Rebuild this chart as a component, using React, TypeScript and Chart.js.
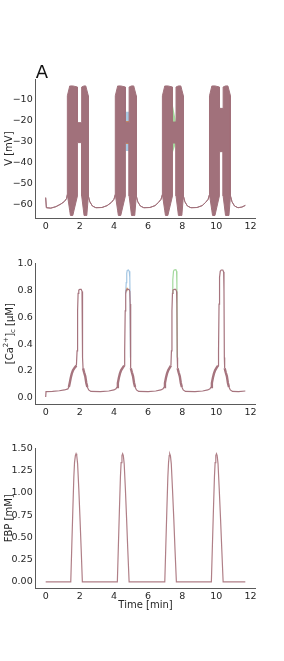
import React, { useEffect, useRef } from 'react';
import { Chart, registerables } from 'chart.js';
Chart.register(...registerables);

// ---------- tick labels ----------
const timeTicks = [0, 2, 4, 6, 8, 10, 12];
const vTicks = [-60, -50, -40, -30, -20, -10];
const caTicks = [0, 0.2, 0.4, 0.6, 0.8, 1.0];
const fbpTicks = [0, 0.25, 0.5, 0.75, 1.0, 1.25, 1.5];

// ---------- membrane potential: envelope of the fast spiking (mV) ----------
const vTime = [
  0, 0.04, 0.3, 0.6, 0.9, 1.1, 1.22,
  1.27, 1.27, 1.41, 1.45, 1.59, 1.86, 1.86, 2.11, 2.11, 2.25, 2.35, 2.41, 2.5, 2.5,
  2.59, 2.74, 2.94, 3.3, 3.6, 3.85, 4.0,
  4.08, 4.08, 4.22, 4.26, 4.4, 4.67, 4.67, 4.89, 4.89, 5.03, 5.16, 5.22, 5.31, 5.31,
  5.4, 5.55, 5.75, 6.11, 6.41, 6.61, 6.76,
  6.84, 6.84, 6.98, 7.02, 7.16, 7.43, 7.43, 7.64, 7.64, 7.78, 7.92, 7.98, 8.07, 8.07,
  8.16, 8.31, 8.51, 8.87, 9.17, 9.37, 9.52,
  9.6, 9.6, 9.74, 9.78, 9.92, 10.18, 10.18, 10.4, 10.4, 10.54, 10.68, 10.74, 10.83, 10.83,
  10.92, 11.07, 11.27, 11.5, 11.7,
];
const vUpper = [
  -56.5, -61.3, -61.5, -60.8, -59.5, -58.3, -57,
  -55, -8, -3.3, -3.3, -3.3, -3.8, -20.8, -20.8, -3.8, -3.3, -3.3, -5.2, -8, -55.7,
  -58.5, -60.5, -61.3, -61.2, -60.3, -58.8, -57.3,
  -55, -8, -3.3, -3.3, -3.3, -3.8, -20.8, -20.8, -3.8, -3.3, -3.3, -5.2, -8, -55.7,
  -58.5, -60.5, -61.3, -61.2, -60.3, -58.8, -57.3,
  -55, -8, -3.3, -3.3, -3.3, -3.8, -20.5, -20.5, -3.8, -3.3, -3.3, -5.2, -8, -55.7,
  -58.5, -60.5, -61.3, -61.2, -60.3, -58.8, -57.3,
  -55, -8, -3.3, -3.3, -3.3, -3.8, -14, -14, -3.8, -3.3, -3.3, -5.2, -8, -55.7,
  -58.5, -60.5, -61.3, -61.0, -60.2,
];
const vLower = [
  -56.5, -61.3, -61.5, -60.8, -59.5, -58.3, -57,
  -55, -55, -62.8, -65, -65, -55.7, -30.3, -30.3, -55.7, -65, -65, -65, -55.7, -55.7,
  -58.5, -60.5, -61.3, -61.2, -60.3, -58.8, -57.3,
  -55, -55, -62.8, -65, -65, -55.7, -30.3, -30.3, -55.7, -65, -65, -65, -55.7, -55.7,
  -58.5, -60.5, -61.3, -61.2, -60.3, -58.8, -57.3,
  -55, -55, -62.8, -65, -65, -55.7, -30.5, -30.5, -55.7, -65, -65, -65, -55.7, -55.7,
  -58.5, -60.5, -61.3, -61.2, -60.3, -58.8, -57.3,
  -55, -55, -62.8, -65, -65, -55.7, -34.6, -34.6, -55.7, -65, -65, -65, -55.7, -55.7,
  -58.5, -60.5, -61.3, -61.0, -60.2,
];
// other parameter sets that differ in the plateau of some bursts
const vBlueTime = [4.67, 4.89];
const vBlueUpper = [-15.6, -15.6];
const vBlueLower = [-34.3, -34.3];
const vOrangeTime = [4.67, 4.89];
const vOrangeUpper = [-20.0, -20.0];
const vOrangeLower = [-31.0, -31.0];
const vGreen3Time = [7.43, 7.64];
const vGreen3Upper = [-11.5, -20.5];
const vGreen3Lower = [-35.5, -30.5];
const vGreen4Time = [10.18, 10.25];
const vGreen4Upper = [-12.6, -14];
const vGreen4Lower = [-36, -34.6];

// ---------- cytosolic calcium (µM) ----------
const caTime = [
  0, 0.02, 0.4, 0.8, 1.1, 1.3,
  1.36, 1.41, 1.47, 1.53, 1.6, 1.7, 1.8,
  1.84, 1.87, 1.9, 1.94, 2.0, 2.08, 2.13, 2.15,
  2.17, 2.19, 2.25, 2.32, 2.38, 2.44, 2.52, 2.65,
  3.2, 3.7, 4.0, 4.12,
  4.18, 4.23, 4.29, 4.35, 4.42, 4.52, 4.6,
  4.63, 4.66, 4.69, 4.72, 4.8, 4.88, 4.93, 4.95,
  4.97, 4.99, 5.05, 5.12, 5.18, 5.24, 5.32, 5.45,
  6.0, 6.45, 6.75, 6.88,
  6.94, 6.99, 7.05, 7.11, 7.18, 7.27, 7.34,
  7.37, 7.4, 7.43, 7.46, 7.54, 7.62, 7.67, 7.69,
  7.71, 7.73, 7.79, 7.86, 7.92, 7.98, 8.06, 8.19,
  8.75, 9.2, 9.5, 9.63,
  9.69, 9.74, 9.8, 9.86, 9.93, 10.02, 10.1,
  10.13, 10.16, 10.19, 10.23, 10.29, 10.38, 10.43, 10.45,
  10.47, 10.49, 10.55, 10.62, 10.68, 10.74, 10.82, 10.95,
  11.3, 11.7,
];
const caValues = [
  0.005, 0.045, 0.047, 0.052, 0.058, 0.066,
  0.08, 0.11, 0.15, 0.18, 0.205, 0.225, 0.24,
  0.35, 0.65, 0.78, 0.805, 0.81, 0.81, 0.795, 0.7,
  0.3, 0.22, 0.19, 0.16, 0.11, 0.08, 0.058, 0.047,
  0.046, 0.05, 0.058, 0.066,
  0.08, 0.11, 0.15, 0.18, 0.205, 0.225, 0.24,
  0.35, 0.65, 0.78, 0.805, 0.81, 0.81, 0.795, 0.7,
  0.3, 0.22, 0.19, 0.16, 0.11, 0.08, 0.058, 0.047,
  0.046, 0.05, 0.058, 0.066,
  0.08, 0.11, 0.15, 0.18, 0.205, 0.225, 0.24,
  0.35, 0.65, 0.78, 0.805, 0.81, 0.81, 0.795, 0.7,
  0.3, 0.22, 0.19, 0.16, 0.11, 0.08, 0.058, 0.047,
  0.046, 0.05, 0.058, 0.066,
  0.08, 0.11, 0.15, 0.18, 0.205, 0.225, 0.24,
  0.35, 0.7, 0.9, 0.945, 0.955, 0.955, 0.94, 0.8,
  0.3, 0.22, 0.19, 0.16, 0.11, 0.08, 0.058, 0.047,
  0.046, 0.05,
];
const caBlueTime = [4.69, 4.72, 4.75, 4.78, 4.85, 4.9, 4.93, 4.95, 4.97];
const caBlueValues = [0.78, 0.86, 0.93, 0.952, 0.955, 0.945, 0.9, 0.7, 0.3];
const caOrangeTime = [4.71, 4.76, 4.82];
const caOrangeValues = [0.8, 0.818, 0.818];
const caGreenTime = [7.42, 7.45, 7.49, 7.53, 7.63, 7.67, 7.69, 7.71];
const caGreenValues = [0.78, 0.88, 0.945, 0.955, 0.958, 0.945, 0.85, 0.3];

// ---------- fructose-1,6-bisphosphate (mM) ----------
const fbpTime = [
  0, 1.47, 1.53, 1.59, 1.65, 1.69, 1.74, 1.78, 1.82, 1.87, 1.94, 2.01, 2.08, 2.15,
  4.2, 4.26, 4.32, 4.38, 4.42, 4.47, 4.51, 4.55, 4.6, 4.67, 4.74, 4.81, 4.89,
  6.98, 7.04, 7.1, 7.16, 7.2, 7.24, 7.27, 7.31, 7.36, 7.43, 7.51, 7.58, 7.66,
  9.71, 9.77, 9.83, 9.89, 9.93, 9.97, 10.01, 10.05, 10.1, 10.17, 10.25, 10.32, 10.4,
  11.7,
];
const fbpValues = [
  0, 0, 0.4, 0.8, 1.18, 1.34, 1.42, 1.44, 1.42, 1.33, 1.05, 0.72, 0.37, 0,
  0, 0.4, 0.8, 1.18, 1.34, 1.42, 1.44, 1.42, 1.33, 1.05, 0.72, 0.37, 0,
  0, 0.4, 0.8, 1.18, 1.34, 1.42, 1.44, 1.42, 1.33, 1.05, 0.7, 0.36, 0,
  0, 0.4, 0.8, 1.18, 1.34, 1.42, 1.44, 1.42, 1.33, 1.05, 0.7, 0.37, 0,
  0,
];

// ---------- styling ----------
const FONT = "'DejaVu Sans', sans-serif";
const TXT = '#262626';
const AXIS = '#5a5a5a';
const MAUVE = '#a1717b';
const MAUVE_LINE = '#a6747e';
const TICK_SIZE = 9.5;
const LABEL_SIZE = 10;

const pts = (xs: number[], ys: number[]) => xs.map((x, i) => ({ x, y: ys[i] }));
const minusFmt = (v: number) => (v < 0 ? '\u2212' + Math.abs(v) : String(v));

function baseOptions(o: any) {
  return {
    responsive: false,
    animation: false,
    devicePixelRatio: 1,
    events: [],
    layout: { padding: { left: 0, right: 28.7, top: o.padTop, bottom: o.padBottom } },
    plugins: { legend: { display: false }, tooltip: { enabled: false }, title: { display: false } },
    elements: { point: { radius: 0 }, line: { tension: 0 } },
    scales: {
      x: {
        type: 'linear',
        min: -0.585,
        max: 12.285,
        grid: { display: false, drawTicks: false },
        border: { display: true, color: AXIS, width: 1 },
        afterBuildTicks: (s: any) => { s.ticks = timeTicks.map((v) => ({ value: v })); },
        afterFit: (s: any) => { s.height = o.xH; },
        ticks: {
          autoSkip: false, maxRotation: 0, padding: 2.5, color: TXT,
          font: { family: FONT, size: TICK_SIZE },
          callback: (v: any) => String(v),
        },
        title: o.xTitle
          ? { display: true, text: o.xTitle, color: TXT, font: { family: FONT, size: LABEL_SIZE }, padding: { top: 0, bottom: o.xTitlePad } }
          : { display: false },
      },
      y: {
        type: 'linear',
        min: o.yMin,
        max: o.yMax,
        grid: { display: false, drawTicks: false },
        border: { display: true, color: AXIS, width: 1 },
        afterBuildTicks: (s: any) => { s.ticks = o.yTicks.map((v: number) => ({ value: v })); },
        afterFit: (s: any) => { s.width = 35.7; },
        ticks: {
          autoSkip: false, padding: 3, color: TXT,
          font: { family: FONT, size: TICK_SIZE },
          callback: o.fmt,
        },
        title: o.yTitle
          ? { display: true, text: o.yTitle, color: TXT, font: { family: FONT, size: LABEL_SIZE }, padding: { top: 3.5, bottom: 0 } }
          : { display: false },
      },
    },
  };
}

const panelLetter = {
  id: 'panelLetter',
  afterDraw(chart: any) {
    const ctx = chart.ctx;
    ctx.save();
    ctx.font = `18px ${FONT}`;
    ctx.fillStyle = '#111';
    ctx.textAlign = 'left';
    ctx.textBaseline = 'alphabetic';
    ctx.fillText('A', chart.chartArea.left, chart.chartArea.top - 1);
    ctx.restore();
  },
};

const caTitle = {
  id: 'caTitle',
  afterDraw(chart: any) {
    const ctx = chart.ctx;
    const { top, bottom } = chart.chartArea;
    const big = `${LABEL_SIZE}px ${FONT}`;
    const small = `7px ${FONT}`;
    const parts = [
      { t: '[Ca', f: big, dy: 0 },
      { t: '2+', f: small, dy: -4 },
      { t: ']', f: big, dy: 0 },
      { t: 'c', f: small, dy: 3 },
      { t: ' [\u00b5M]', f: big, dy: 0 },
    ];
    ctx.save();
    ctx.translate(10, (top + bottom) / 2);
    ctx.rotate(-Math.PI / 2);
    ctx.fillStyle = TXT;
    ctx.textBaseline = 'middle';
    ctx.textAlign = 'left';
    let total = 0;
    parts.forEach((p) => { ctx.font = p.f; total += ctx.measureText(p.t).width; });
    let x = -total / 2;
    parts.forEach((p) => { ctx.font = p.f; ctx.fillText(p.t, x, p.dy); x += ctx.measureText(p.t).width; });
    ctx.restore();
  },
};

function band(xs: number[], up: number[], lo: number[], idx: number, color: string, line: number, order: number) {
  return [
    { data: pts(xs, up), borderColor: color, borderWidth: line, backgroundColor: color, fill: idx + 1, order, pointRadius: 0 },
    { data: pts(xs, lo), borderColor: color, borderWidth: line, backgroundColor: color, fill: false, order, pointRadius: 0 },
  ];
}

function vConfig(): any {
  const datasets = [
    ...band(vTime, vUpper, vLower, 0, MAUVE, 1, 0),
    ...band(vBlueTime, vBlueUpper, vBlueLower, 2, '#a8c9e2', 0, 2),
    ...band(vOrangeTime, vOrangeUpper, vOrangeLower, 4, '#c68a5e', 0, 1),
    ...band(vGreen3Time, vGreen3Upper, vGreen3Lower, 6, '#a5d79c', 0, 1),
    ...band(vGreen4Time, vGreen4Upper, vGreen4Lower, 8, '#a5d79c', 0, 1),
  ];
  return {
    type: 'line',
    data: { datasets },
    options: baseOptions({ padTop: 39.3, padBottom: 0, xH: 22, yMin: -66.2, yMax: -0.14, yTicks: vTicks, fmt: minusFmt, yTitle: 'V [mV]' }),
    plugins: [panelLetter],
  };
}

function caConfig(): any {
  const thick = (ctx: any) => {
    const a = caValues[ctx.p0DataIndex];
    const b = caValues[ctx.p1DataIndex];
    return a >= 0.07 && a <= 0.25 && b >= 0.07 && b <= 0.25 ? 2.4 : undefined;
  };
  const datasets = [
    { data: pts(caTime, caValues), borderColor: MAUVE_LINE, borderWidth: 1.2, fill: false, order: 0, pointRadius: 0, segment: { borderWidth: thick } },
    { data: pts(caOrangeTime, caOrangeValues), borderColor: '#d29a6c', borderWidth: 1.2, fill: false, order: 1, pointRadius: 0 },
    { data: pts(caBlueTime, caBlueValues), borderColor: '#a3c6e3', borderWidth: 1.2, fill: false, order: 2, pointRadius: 0 },
    { data: pts(caGreenTime, caGreenValues), borderColor: '#a3d99c', borderWidth: 1.2, fill: false, order: 2, pointRadius: 0 },
  ];
  return {
    type: 'line',
    data: { datasets },
    options: baseOptions({ padTop: 23.3, padBottom: 0, xH: 21, yMin: -0.047, yMax: 1.005, yTicks: caTicks, fmt: (v: number) => v.toFixed(1) }),
    plugins: [caTitle],
  };
}

function fbpConfig(): any {
  const datasets = [
    { data: pts(fbpTime, fbpValues), borderColor: '#b07f87', borderWidth: 1.2, fill: false, pointRadius: 0 },
  ];
  return {
    type: 'line',
    data: { datasets },
    options: baseOptions({
      padTop: 23.3, padBottom: 42.7, xH: 30, yMin: -0.0715, yMax: 1.5015, yTicks: fbpTicks,
      fmt: (v: number) => v.toFixed(2), yTitle: 'FBP [mM]', xTitle: 'Time [min]', xTitlePad: 7,
    }),
  };
}

function Panel({ top, height, make }: { top: number; height: number; make: () => any }) {
  const ref = useRef<HTMLCanvasElement>(null);
  useEffect(() => {
    const chart = new Chart(ref.current as HTMLCanvasElement, make());
    return () => chart.destroy();
  }, []);
  return (
    <canvas
      ref={ref}
      width={284}
      height={height}
      style={{ position: 'absolute', left: 0, top, width: 284, height, display: 'block' }}
    />
  );
}

export default function App() {
  return (
    <div style={{ position: 'absolute', left: 0, top: 0, width: 284, height: 661, background: '#fff', overflow: 'hidden' }}>
      <Panel top={40} height={200} make={vConfig} />
      <Panel top={240} height={185} make={caConfig} />
      <Panel top={425} height={236} make={fbpConfig} />
    </div>
  );
}
